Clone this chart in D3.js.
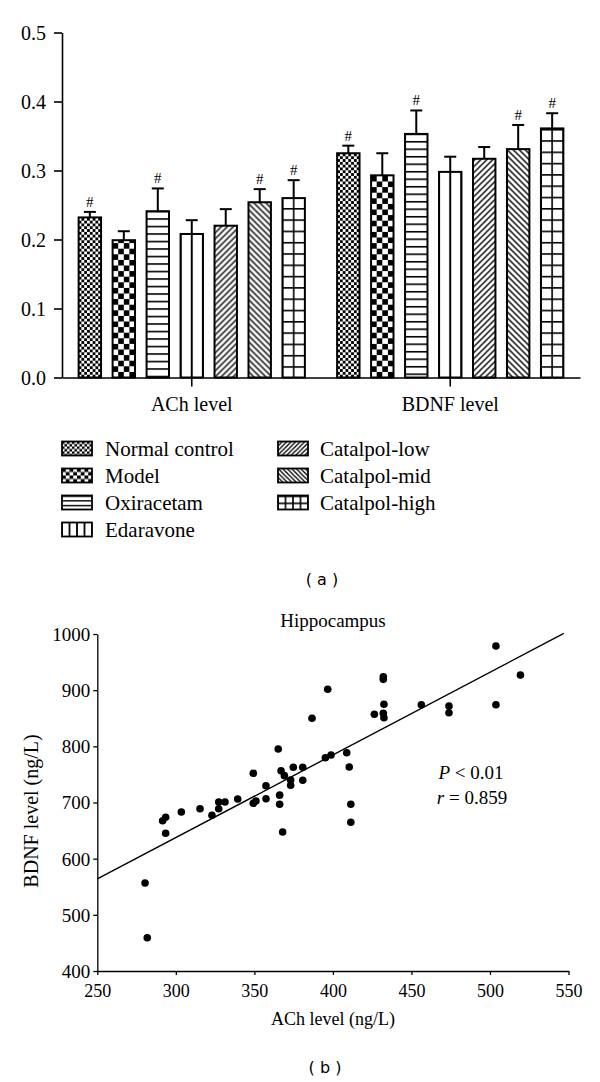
<!DOCTYPE html>
<html><head><meta charset="utf-8">
<script src="https://cdn.jsdelivr.net/npm/d3@7"></script>
<style>
body{margin:0;background:#fff}
svg{display:block}
</style>
</head><body>
<svg id="c" width="600" height="1082"></svg>
<script>
// ---------------- data: panel (a) ----------------
const groups = ["ACh level", "BDNF level"];
const series = ["Normal control", "Model", "Oxiracetam", "Edaravone", "Catalpol-low", "Catalpol-mid", "Catalpol-high"];
const achMeans  = [0.232, 0.199, 0.241, 0.208, 0.220, 0.254, 0.260];
const achErr    = [0.008, 0.013, 0.033, 0.020, 0.024, 0.019, 0.026];
const bdnfMeans = [0.325, 0.293, 0.353, 0.298, 0.317, 0.331, 0.361];
const bdnfErr   = [0.011, 0.032, 0.034, 0.022, 0.017, 0.035, 0.022];
const achSig    = [1, 0, 1, 0, 0, 1, 1];
const bdnfSig   = [1, 0, 1, 0, 0, 1, 1];
const yTicksA   = [0, 0.1, 0.2, 0.3, 0.4, 0.5];

// ---------------- data: panel (b) ----------------
const achLevel  = [280.4, 281.8, 291.6, 293.5, 293.5, 303.5, 315.4, 323.0, 327.3, 327.3, 331.3, 339.4,
                   349.3, 349.3, 351.0, 357.4, 357.4, 365.2, 366.1, 366.1, 368.0, 367.0, 369.1, 373.1,
                   373.1, 374.8, 380.8, 380.8, 386.7, 396.7, 395.2, 398.8, 408.8, 410.4, 411.4, 411.4,
                   426.4, 432.1, 432.1, 432.5, 432.1, 432.5, 456.3, 473.9, 473.9, 503.8, 503.8, 519.4];
const bdnfLevel = [556.7, 459.3, 667.6, 673.7, 645.2, 683.1, 689.0, 677.2, 700.9, 689.0, 700.9, 706.2,
                   752.0, 698.6, 702.7, 729.9, 706.8, 795.3, 713.1, 697.0, 647.6, 756.6, 747.8, 740.1,
                   730.7, 762.7, 762.7, 739.5, 849.9, 901.5, 779.8, 784.6, 788.7, 763.2, 697.0, 664.9,
                   857.0, 924.0, 919.3, 874.8, 858.8, 851.0, 874.1, 871.8, 859.9, 978.6, 874.1, 926.8];
const fitX = [250, 547];
const fitY = [564, 1001];
const xTicksB = [250, 300, 350, 400, 450, 500, 550];
const yTicksB = [400, 500, 600, 700, 800, 900, 1000];

// ---------------- setup ----------------
const svg = d3.select("#c");
const defs = svg.append("defs");
const serif = '"Liberation Serif","Times New Roman",serif';
const sans = '"DejaVu Sans",sans-serif';

function addPattern(id, w, h, draw, tx, ty) {
  const p = defs.append("pattern").attr("id", id)
    .attr("patternUnits", "userSpaceOnUse")
    .attr("width", w).attr("height", h)
    .attr("patternTransform", `translate(${tx || 0},${ty || 0})`);
  p.append("rect").attr("width", w).attr("height", h).attr("fill", "#fff");
  draw(p, w, h);
  return `url(#${id})`;
}
const checker = (p, w, h) => {
  p.append("rect").attr("width", w / 2).attr("height", h / 2).attr("fill", "#000");
  p.append("rect").attr("x", w / 2).attr("y", h / 2).attr("width", w / 2).attr("height", h / 2).attr("fill", "#000");
};
const hline = sw => (p, w) => p.append("rect").attr("width", w).attr("height", sw).attr("fill", "#000");
const vlineEdge = sw => (p, w, h) => {
  p.append("rect").attr("x", 0).attr("width", sw / 2).attr("height", h).attr("fill", "#000");
  p.append("rect").attr("x", w - sw / 2).attr("width", sw / 2).attr("height", h).attr("fill", "#000");
};
const diagUp = sw => (p, w, h) => p.append("path")
  .attr("d", `M0,${h}L${w},0M${-w / 2},${h / 2}L${w / 2},${-h / 2}M${w / 2},${h * 1.5}L${w * 1.5},${h / 2}`)
  .attr("stroke", "#000").attr("stroke-width", sw);
const diagDown = sw => (p, w, h) => p.append("path")
  .attr("d", `M0,0L${w},${h}M${-w / 2},${h / 2}L${w / 2},${h * 1.5}M${w / 2},${-h / 2}L${w * 1.5},${h / 2}`)
  .attr("stroke", "#000").attr("stroke-width", sw);
const grid = sw => (p, w, h) => { hline(sw)(p, w, h); vlineEdge(sw)(p, w, h); };

// ---------------- panel (a) ----------------
const ya = d3.scaleLinear().domain([0, 0.5]).range([377.5, 32.5]);
const x0 = d3.scaleBand().domain(groups).range([62, 580]).paddingInner(0.08).paddingOuter(0.042);
const x1 = d3.scaleBand().domain(series).range([0, x0.bandwidth()]).paddingInner(0.34).paddingOuter(0.17);

const gA = svg.append("g");
const barData = [];
groups.forEach((g, gi) => {
  const means = gi === 0 ? achMeans : bdnfMeans;
  const errs = gi === 0 ? achErr : bdnfErr;
  const sig = gi === 0 ? achSig : bdnfSig;
  series.forEach((s, si) => barData.push({ g, gi, s, si, v: means[si], e: errs[si], sig: sig[si] }));
});

function barFill(d) {
  const x = x0(d.g) + x1(d.s), w = x1.bandwidth(), cx = x + w / 2, base = ya(0);
  const id = `pb${d.gi}_${d.si}`;
  switch (d.si) {
    case 0: return addPattern(id, 5.6, 5.6, checker, x, base);
    case 1: return addPattern(id, 11.2, 11.2, checker, x, base);
    case 2: return addPattern(id, 10, 7.5, hline(1.6), x, ya(d.v) + 7);
    case 3: return addPattern(id, w / 2, 10, vlineEdge(2), cx, 0);
    case 4: return addPattern(id, 6, 6, diagUp(1.4), x, base);
    case 5: return addPattern(id, 6, 6, diagDown(1.4), x, base);
    case 6: return addPattern(id, w / 2, 11.3, grid(1.6), cx, base);
  }
}

const bars = gA.selectAll("g.bar").data(barData).join("g").attr("class", "bar");
bars.append("rect")
  .attr("x", d => x0(d.g) + x1(d.s))
  .attr("y", d => ya(d.v))
  .attr("width", x1.bandwidth())
  .attr("height", d => ya(0) - ya(d.v))
  .attr("fill", d => barFill(d))
  .attr("stroke", "#000").attr("stroke-width", 2);
bars.append("line")
  .attr("x1", d => x0(d.g) + x1(d.s) + x1.bandwidth() / 2)
  .attr("x2", d => x0(d.g) + x1(d.s) + x1.bandwidth() / 2)
  .attr("y1", d => ya(d.v)).attr("y2", d => ya(d.v + d.e))
  .attr("stroke", "#000").attr("stroke-width", 2);
bars.append("line")
  .attr("x1", d => x0(d.g) + x1(d.s) + x1.bandwidth() / 2 - 6)
  .attr("x2", d => x0(d.g) + x1(d.s) + x1.bandwidth() / 2 + 6)
  .attr("y1", d => ya(d.v + d.e)).attr("y2", d => ya(d.v + d.e))
  .attr("stroke", "#000").attr("stroke-width", 2);
bars.filter(d => d.sig).append("text")
  .attr("x", d => x0(d.g) + x1(d.s) + x1.bandwidth() / 2)
  .attr("y", d => ya(d.v + d.e) - 5)
  .attr("text-anchor", "middle").attr("font-size", 15).text("#");

const yAxA = gA.append("g").attr("transform", "translate(62,0)")
  .call(d3.axisLeft(ya).tickValues(yTicksA).tickFormat(d3.format(".1f")).tickSize(8).tickSizeOuter(0).tickPadding(8));
const xAxA = gA.append("g").attr("transform", `translate(0,${ya(0)})`)
  .call(d3.axisBottom(x0).tickSize(9).tickSizeOuter(0));
[yAxA, xAxA].forEach(a => {
  a.selectAll("path,line").attr("stroke", "#000").attr("stroke-width", 1.6);
});
yAxA.selectAll("text").attr("font-size", 20).attr("dy", "0.34em");
xAxA.selectAll("text").attr("font-size", 20).attr("y", 33).attr("dy", 0);

// legend
const legRows = [
  { col: 0, row: 0 }, { col: 0, row: 1 }, { col: 0, row: 2 }, { col: 0, row: 3 },
  { col: 1, row: 0 }, { col: 1, row: 1 }, { col: 1, row: 2 }
];
const legX = [62, 278], legTextX = [105, 320], legY0 = 448.5, legDy = 27;
series.forEach((s, si) => {
  const r = legRows[si];
  const x = legX[r.col], cy = legY0 + r.row * legDy, y = cy - 7, w = 30, h = 14;
  const id = `pl${si}`;
  let fill;
  switch (si) {
    case 0: fill = addPattern(id, 5, 5, checker, x, y); break;
    case 1: fill = addPattern(id, 7.5, 7, checker, x, y); break;
    case 2: fill = addPattern(id, 10, 4.67, hline(1.4), x, y); break;
    case 3: fill = addPattern(id, 7.5, 10, vlineEdge(1.8), x, y); break;
    case 4: fill = addPattern(id, 4.5, 4.5, diagUp(1.3), x, y); break;
    case 5: fill = addPattern(id, 4.5, 4.5, diagDown(1.3), x, y); break;
    case 6: fill = addPattern(id, 7.5, 7, grid(1.6), x, y); break;
  }
  svg.append("rect").attr("x", x).attr("y", y).attr("width", w).attr("height", h)
    .attr("fill", fill).attr("stroke", "#000").attr("stroke-width", 1.8);
  svg.append("text").attr("x", legTextX[r.col]).attr("y", cy + 7)
    .attr("font-size", 21).text(s);
});

// ---------------- panel (b) ----------------
const xb = d3.scaleLinear().domain([250, 550]).range([97.3, 568.5]);
const yb = d3.scaleLinear().domain([400, 1000]).range([971, 634]);
const gB = svg.append("g");

const yAxB = gB.append("g").attr("transform", `translate(${xb(250)},0)`)
  .call(d3.axisLeft(yb).tickValues(yTicksB).tickFormat(d3.format("d")).tickSize(4).tickSizeOuter(0).tickPadding(3));
const xAxB = gB.append("g").attr("transform", `translate(0,${yb(400)})`)
  .call(d3.axisBottom(xb).tickValues(xTicksB).tickFormat(d3.format("d")).tickSize(4).tickSizeOuter(0));
[yAxB, xAxB].forEach(a => {
  a.selectAll("path,line").attr("stroke", "#000").attr("stroke-width", 1.3);
});
yAxB.selectAll("text").attr("font-size", 19).attr("dy", "0.34em");
xAxB.selectAll("text").attr("font-size", 18).attr("y", 26).attr("dy", 0);

gB.append("line")
  .attr("x1", xb(fitX[0])).attr("y1", yb(fitY[0]))
  .attr("x2", xb(fitX[1])).attr("y2", yb(fitY[1]))
  .attr("stroke", "#000").attr("stroke-width", 1.4);

gB.selectAll("circle").data(achLevel.map((a, i) => [a, bdnfLevel[i]])).join("circle")
  .attr("cx", d => xb(d[0])).attr("cy", d => yb(d[1])).attr("r", 3.8).attr("fill", "#000");

gB.append("text").attr("x", 333).attr("y", 627).attr("text-anchor", "middle").attr("font-size", 19).text("Hippocampus");
const pt = gB.append("text").attr("x", 471).attr("y", 779).attr("text-anchor", "middle").attr("font-size", 19);
pt.append("tspan").attr("font-style", "italic").text("P");
pt.append("tspan").text(" < 0.01");
const rt = gB.append("text").attr("x", 472).attr("y", 804).attr("text-anchor", "middle").attr("font-size", 19);
rt.append("tspan").attr("font-style", "italic").text("r");
rt.append("tspan").text(" = 0.859");

gB.append("text").attr("transform", "translate(38,811) rotate(-90)").attr("text-anchor", "middle")
  .attr("font-size", 20).text("BDNF level (ng/L)");
gB.append("text").attr("x", 333).attr("y", 1025).attr("text-anchor", "middle")
  .attr("font-size", 18).text("ACh level (ng/L)");

// force serif on all chart text, fill black
svg.selectAll("text").style("font-family", serif).attr("fill", "#000");

// panel captions (sans)
svg.append("text").attr("x", 322).attr("y", 585).attr("text-anchor", "middle")
  .style("font-family", sans).attr("font-size", 16).text("( a )");
svg.append("text").attr("x", 325).attr("y", 1073).attr("text-anchor", "middle")
  .style("font-family", sans).attr("font-size", 16).text("( b )");
</script>
</body></html>
